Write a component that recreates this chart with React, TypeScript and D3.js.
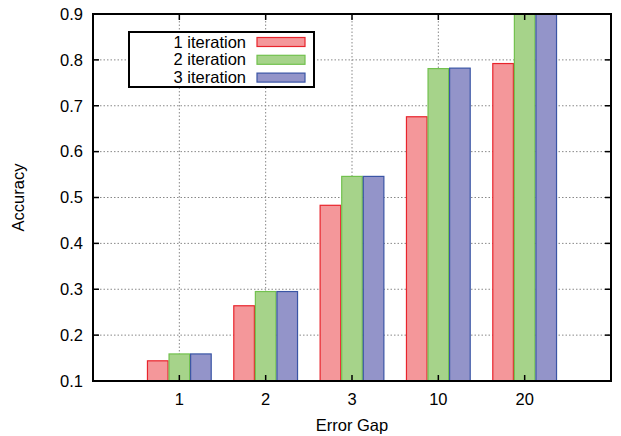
import React from "react";
import * as d3 from "d3";

const categories = ["1", "2", "3", "10", "20"];
const seriesNames = ["1 iteration", "2 iteration", "3 iteration"];
const iter1 = [0.144, 0.264, 0.483, 0.676, 0.792];
const iter2 = [0.159, 0.295, 0.546, 0.781, 0.95];
const iter3 = [0.159, 0.295, 0.546, 0.782, 0.95];
const yTicks = [0.1, 0.2, 0.3, 0.4, 0.5, 0.6, 0.7, 0.8, 0.9];

const fills = ["#f4979a", "#a6d38a", "#9394c9"];
const strokes = ["#e8242c", "#72c14e", "#3a55a5"];

export default function App() {
  const W = 621, H = 436;
  const m = { l: 93, r: 10, t: 14, b: 55 };
  const x = d3.scaleLinear().domain([0, categories.length + 1]).range([m.l, W - m.r]);
  const y = d3.scaleLinear().domain([0.1, 0.9]).range([H - m.b, m.t]);
  const series = [iter1, iter2, iter3];
  const step = x(1) - x(0);
  const bw = step * 0.25;
  const font = "Liberation Sans, Arial, sans-serif";
  const fs = 16.5;
  return (
    <svg width={W} height={H} style={{ position: "absolute", left: 0, top: 0 }} fontFamily={font}>
      <defs>
        <clipPath id="plot">
          <rect x={m.l} y={m.t} width={W - m.r - m.l} height={H - m.b - m.t} />
        </clipPath>
      </defs>
      <rect width={W} height={H} fill="#fff" />
      {yTicks.slice(1, -1).map((t) => (
        <line key={"gy" + t} x1={m.l} x2={W - m.r} y1={y(t)} y2={y(t)} stroke="#888" strokeDasharray="1.5,2" strokeWidth={1} />
      ))}
      {categories.map((c, i) => (
        <line key={"gx" + c} x1={x(i + 1)} x2={x(i + 1)} y1={m.t} y2={H - m.b} stroke="#888" strokeDasharray="1.5,2" strokeWidth={1} />
      ))}
      <g clipPath="url(#plot)">
        {series.map((s, si) =>
          s.map((v, i) => {
            const x0 = x(i + 1) + (si - 1.5) * bw;
            return (
              <rect key={si + "-" + i} x={x0 + 0.5} y={y(v)} width={bw - 1} height={y(0.1) - y(v)}
                fill={fills[si]} stroke={strokes[si]} strokeWidth={1.2} />
            );
          })
        )}
      </g>
      {yTicks.map((t) => (
        <g key={"ty" + t}>
          <line x1={m.l} x2={m.l + 6} y1={y(t)} y2={y(t)} stroke="#000" strokeWidth={1.5} />
          <line x1={W - m.r} x2={W - m.r - 6} y1={y(t)} y2={y(t)} stroke="#000" strokeWidth={1.5} />
          <text x={m.l - 10} y={y(t) + 5.8} textAnchor="end" fontSize={fs}>{t.toFixed(1)}</text>
        </g>
      ))}
      {categories.map((c, i) => (
        <g key={"tx" + c}>
          <line x1={x(i + 1)} x2={x(i + 1)} y1={H - m.b} y2={H - m.b - 6} stroke="#000" strokeWidth={1.5} />
          <line x1={x(i + 1)} x2={x(i + 1)} y1={m.t} y2={m.t + 6} stroke="#000" strokeWidth={1.5} />
          <text x={x(i + 1)} y={405} textAnchor="middle" fontSize={fs}>{c}</text>
        </g>
      ))}
      <rect x={m.l} y={m.t} width={W - m.r - m.l} height={H - m.b - m.t} fill="none" stroke="#000" strokeWidth={2} />
      <rect x={129} y={32} width={185} height={55} fill="#fff" stroke="#000" strokeWidth={2} />
      {seriesNames.map((n, i) => (
        <g key={n}>
          <text x={246} y={47.5 + i * 17.8} textAnchor="end" fontSize={fs}>{n}</text>
          <rect x={257} y={37.5 + i * 17.8} width={48} height={9} fill={fills[i]} stroke={strokes[i]} strokeWidth={1.2} />
        </g>
      ))}
      <text transform={`translate(24,${(m.t + H - m.b) / 2}) rotate(-90)`} textAnchor="middle" fontSize={fs}>Accuracy</text>
      <text x={(m.l + W - m.r) / 2} y={431} textAnchor="middle" fontSize={fs}>Error Gap</text>
    </svg>
  );
}
